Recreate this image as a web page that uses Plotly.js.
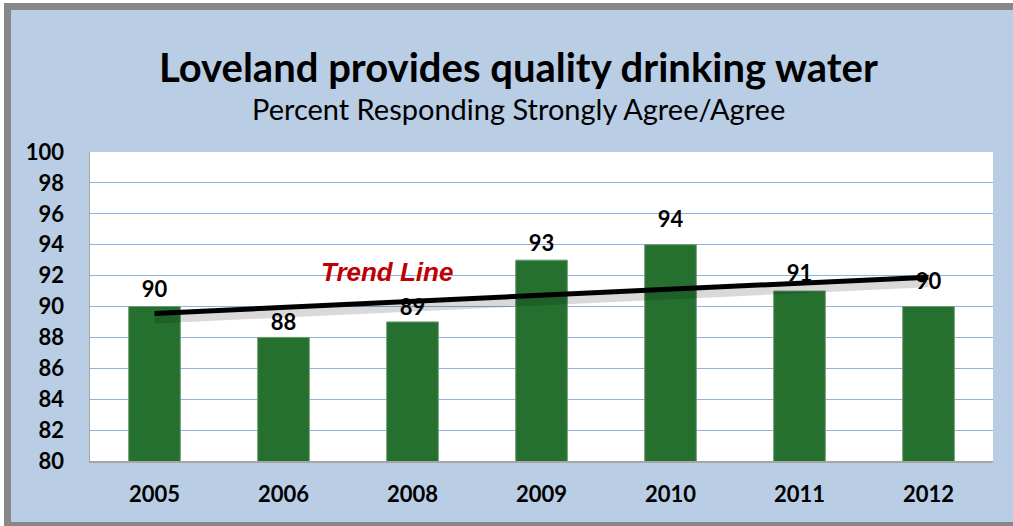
<!DOCTYPE html>
<html>
<head>
<meta charset="utf-8">
<script src="https://cdn.plot.ly/plotly-3.0.1.min.js"></script>
<style>
  html, body { margin: 0; padding: 0; background: #ffffff; }
  #frame { position: absolute; left: 4px; top: 3px; width: 1009px; height: 523px; background: #878787; }
  #chart { position: absolute; left: 11px; top: 10px; width: 1002px; height: 512px; }
</style>
</head>
<body>
<div id="frame"></div>
<div id="chart"></div>
<script>
const years = ['2005', '2006', '2008', '2009', '2010', '2011', '2012'];
const values = [90, 88, 89, 93, 94, 91, 90];
const trendYears = ['2005', '2012'];
const trendValues = [89.55, 91.9];
const yTicks = [80, 82, 84, 86, 88, 90, 92, 94, 96, 98, 100];
const titleText = 'Loveland provides quality drinking water';
const subtitleText = 'Percent Responding Strongly Agree/Agree';
const trendLabel = 'Trend Line';
// invisible anchor sizes that set how far each value label sits above its bar (style, not data)
const labelPad = [5, 2, 1, 5, 18, 5, 18];

const bars = {
  type: 'bar', x: years, y: values, width: 0.4,
  marker: { color: '#25702F', line: { color: '#6a9a70', width: 1 } },
  hoverinfo: 'x+y', showlegend: false
};
const labels = {
  type: 'scatter', mode: 'markers+text', x: years, y: values,
  text: values.map(String), textposition: 'top center',
  marker: { size: labelPad, opacity: 0, color: '#000000' },
  textfont: { family: 'Lato, sans-serif', size: 22, color: '#000000', weight: 'bold' },
  hoverinfo: 'skip', showlegend: false, cliponaxis: false
};
const shadow = {
  type: 'scatter', mode: 'lines', x: trendYears, y: trendValues.map(v => v - 0.3),
  line: { color: 'rgba(0,0,0,0.15)', width: 11 }, hoverinfo: 'skip', showlegend: false
};
const trend = {
  type: 'scatter', mode: 'lines', x: trendYears, y: trendValues,
  line: { color: '#000000', width: 5 }, hoverinfo: 'skip', showlegend: false
};

const layout = {
  width: 1002, height: 512,
  margin: { l: 79, r: 20, t: 142, b: 61 },
  paper_bgcolor: '#B9CDE5', plot_bgcolor: '#FFFFFF',
  xaxis: {
    type: 'category', categoryorder: 'array', categoryarray: years,
    range: [-0.5, years.length - 0.5], autorange: false,
    showgrid: false, zeroline: false,
    showline: true, linecolor: '#A6A6A6', linewidth: 1.5,
    ticks: '', ticklabelstandoff: 13,
    tickfont: { family: 'Lato, sans-serif', size: 22, color: '#000000', weight: 'bold' }
  },
  yaxis: {
    range: [80, 100], autorange: false, tickvals: yTicks, ticktext: yTicks.map(String),
    showgrid: true, gridcolor: '#8DB3E2', gridwidth: 1, zeroline: false,
    showline: true, linecolor: '#A6A6A6', linewidth: 1.5,
    ticks: '', ticklabelstandoff: 20,
    tickfont: { family: 'Lato, sans-serif', size: 22, color: '#000000', weight: 'bold' }
  },
  annotations: [
    { text: titleText, xref: 'paper', yref: 'paper', x: 0.474, y: 1.275,
      xanchor: 'center', yanchor: 'middle', showarrow: false,
      font: { family: 'Lato, sans-serif', size: 40, color: '#000000', weight: 'bold' } },
    { text: subtitleText, xref: 'paper', yref: 'paper', x: 0.474, y: 1.142,
      xanchor: 'center', yanchor: 'middle', showarrow: false,
      font: { family: 'Lato, sans-serif', size: 29, color: '#000000' } },
    { text: '<i><b>' + trendLabel + '</b></i>', xref: 'paper', yref: 'y', x: 0.329, y: 92.25,
      xanchor: 'center', yanchor: 'middle', showarrow: false,
      font: { family: 'Liberation Sans, Arial, sans-serif', size: 26, color: '#C00000' } }
  ]
};

Plotly.newPlot('chart', [bars, labels, shadow, trend], layout, { displayModeBar: false, staticPlot: true });
</script>
</body>
</html>
